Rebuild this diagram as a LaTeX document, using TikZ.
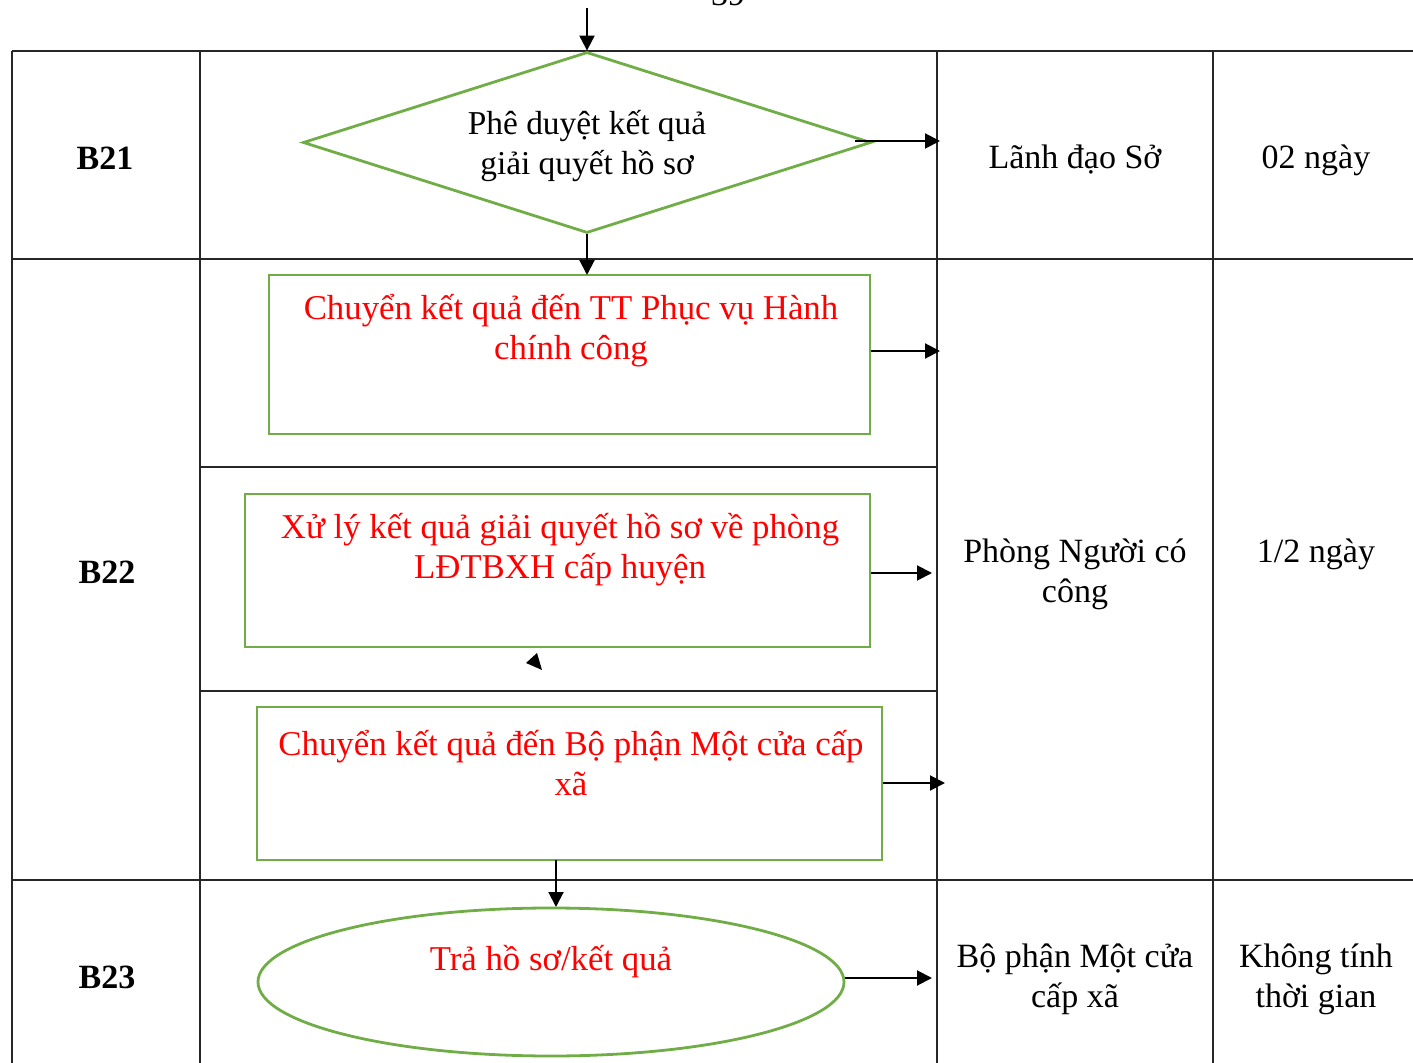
\documentclass[tikz,border=0pt]{standalone}
\usepackage{fontspec}
\setmainfont{Liberation Serif}
\usetikzlibrary{shapes.geometric,arrows.meta}
\definecolor{flowgreen}{HTML}{70AD47}
\begin{document}
\begin{tikzpicture}[x=0.5pt,y=-0.5pt,
  grid/.style={line width=0.8pt,draw=black!85},
  gshape/.style={draw=flowgreen,line width=1.4pt,inner sep=0pt},
  conn/.style={line width=1pt,-{Triangle[length=7.5pt,width=7.5pt]}},
  txt/.style={font=\fontsize{17}{20}\selectfont,align=center,inner sep=0pt},
  dtxt/.style={font=\fontsize{16.7}{20}\selectfont,align=center,inner sep=0pt},
  rtxt/.style={font=\fontsize{17.4}{20}\selectfont,align=center,inner sep=0pt,text=red},
  lbl/.style={font=\fontsize{17}{20}\selectfont\bfseries,inner sep=0pt}]
\useasboundingbox[clip] (0,0) rectangle (1413,1063);
% page number cut off at top
\node[txt,anchor=base] (pg) at (728,6) {39};
% table grid
\draw[grid] (12,51) -- (1413,51);
\draw[grid] (12,259) -- (1413,259);
\draw[grid] (200,467) -- (937,467);
\draw[grid] (200,691) -- (937,691);
\draw[grid] (12,880) -- (1413,880);
\draw[grid] (12,51) -- (12,1063);
\draw[grid] (200,51) -- (200,1063);
\draw[grid] (937,51) -- (937,1063);
\draw[grid] (1213,51) -- (1213,1063);
% step labels
\node[lbl] (b21) at (105,158) {B21};
\node[lbl] (b22) at (107,572) {B22};
\node[lbl] (b23) at (107,977) {B23};
% right columns
\node[txt] (r1) at (1075,160) {Lãnh đạo Sở};
\node[txt] (d1) at (1316,160) {02 ngày};
\node[txt] (r2) at (1075,574) {Phòng Người có\\công};
\node[txt] (d2) at (1316,554) {1/2 ngày};
\node[txt] (r3) at (1075,979) {Bộ phận Một cửa\\cấp xã};
\node[txt] (d3) at (1316,979) {Không tính\\thời gian};
% shapes
\node[gshape,diamond,minimum width=284pt,minimum height=90.5pt] (dia) at (587,142.5) {};
\node[dtxt] (diat) at (587,146) {Phê duyệt kết quả\\giải quyết hồ sơ};
\node[gshape,rectangle,minimum width=300.5pt,minimum height=79.5pt] (box1) at (569.5,354.5) {};
\node[rtxt] (box1t) at (571,331) {Chuyển kết quả đến TT Phục vụ Hành\\chính công};
\node[gshape,rectangle,minimum width=312.5pt,minimum height=76.5pt] (box2) at (557.5,570.5) {};
\node[rtxt] (box2t) at (560,550) {Xử lý kết quả giải quyết hồ sơ về phòng\\LĐTBXH cấp huyện};
\node[gshape,rectangle,minimum width=312.5pt,minimum height=76.5pt] (box3) at (569.5,783.5) {};
\node[rtxt] (box3t) at (571,763) {Chuyển kết quả đến Bộ phận Một cửa cấp\\xã};
\node[gshape,ellipse,minimum width=293pt,minimum height=74pt] (ell) at (551,982) {};
\node[rtxt] (ellt) at (551,962) {Trả hồ sơ/kết quả};
% connector end points
\coordinate (start) at (587,8);
\coordinate (a1s) at (855,141);
\coordinate (a1e) at (940,141);
\coordinate (a2e) at (940,351);
\coordinate (a3e) at (932,573);
\coordinate (a4e) at (945,783);
\coordinate (a5e) at (932,978);
\coordinate (b1top) at (587,275);
\coordinate (e3s) at (556,860);
\coordinate (elltop) at (556,907);
% connectors
\draw[conn] (start) -- (dia.north);
\draw[conn] (a1s) -- (a1e);
\draw[conn] (dia.south) -- (b1top);
\draw[conn] (box1.east |- a2e) -- (a2e);
\draw[conn] (box2.east |- a3e) -- (a3e);
\draw[conn] (box3.east |- a4e) -- (a4e);
\draw[conn] (e3s) -- (elltop);
\draw[conn] (ell.east |- a5e) -- (a5e);
% stray arrowhead
\fill (537,653) -- (526,663) -- (542,670) -- cycle;
\end{tikzpicture}
\end{document}
